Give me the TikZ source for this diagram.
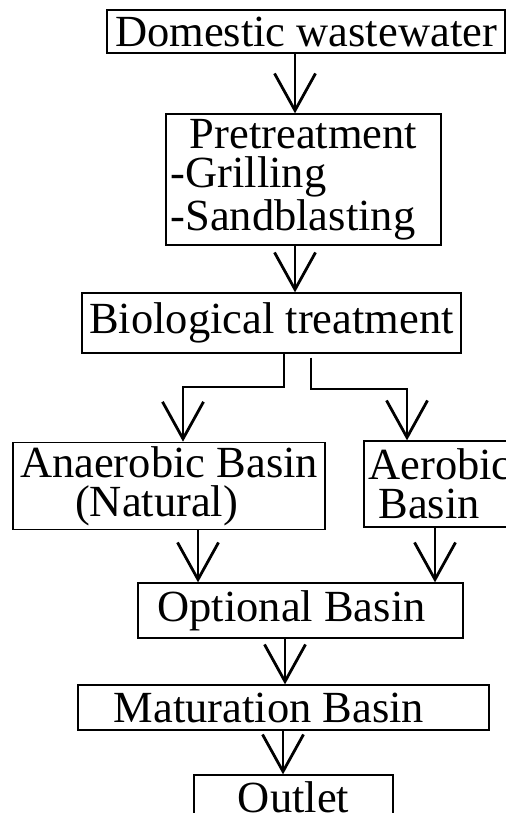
\documentclass[tikz,border=0pt]{standalone}
\usepackage{fontspec}
\setmainfont{Liberation Serif}
\usetikzlibrary{arrows.meta}
\tikzset{
  stage/.style={draw, line width=0.65pt, inner sep=2pt, font=\fontsize{22.25}{19.5}\selectfont},
  flow/.style={line width=1.15pt, -{Straight Barb[length=18.5pt, width=20.5pt, line width=1.4pt]}}
}
\begin{document}
\begin{tikzpicture}[x=0.5pt, y=-0.5pt]
    \fill[white] (0,0) rectangle (506,813);
    \useasboundingbox (0,0) rectangle (506,813);
    \clip (0,0) rectangle (506,813);

    \node[stage, minimum width=199pt, minimum height=21.5pt] (dom) at (306,31.5) {Domestic wastewater};
    \node[stage, minimum width=137.5pt, minimum height=65.5pt, text width=133pt, align=left] (pre) at (303.5,179.5)
        {\makebox[133pt]{Pretreatment}\\-Grilling\\-Sandblasting};
    \node[stage, minimum width=189.5pt, minimum height=30pt] (bio) at (271.5,323) {Biological treatment};
    \node[stage, minimum width=156pt, minimum height=43pt, align=left] (ana) at (169,486)
        {Anaerobic Basin\\\hspace*{27.5pt}(Natural)};
    \node[stage, minimum width=76pt, minimum height=43pt, align=left] (aer) at (440,484)
        {Aerobic\\\hspace*{5pt}Basin};
    \node[stage, minimum width=162.5pt, minimum height=27.5pt] (opt) at (300.5,610.5) {Optional Basin\hspace*{9pt}};
    \node[stage, minimum width=205.5pt, minimum height=22.5pt] (mat) at (283.5,707.5) {Maturation Basin\hspace*{14.5pt}};
    \node[stage, minimum width=99.5pt, minimum height=22.5pt] (out) at (293.5,797.5) {Outlet};

    \draw[flow] ([xshift=-5.5pt]dom.south) -- ([xshift=-4.25pt]pre.north);
    \draw[flow] ([xshift=-4.25pt]pre.south) -- ([xshift=11.75pt]bio.north);
    \draw[flow] ([xshift=6.25pt]bio.south) -- ++(0,33) -| ([xshift=7pt]ana.north);
    \draw[flow] ([xshift=19.75pt, yshift=-2pt]bio.south) -- ++(0,31) -| ([xshift=-16.5pt]aer.north);
    \draw[flow] ([xshift=14.5pt]ana.south) -- ([xshift=-51.25pt]opt.north);
    \draw[flow] ([xshift=-2.5pt]aer.south) -- ([xshift=67.25pt]opt.north);
    \draw[flow] ([xshift=-7.75pt]opt.south) -- ([xshift=0.75pt]mat.north);
    \draw[flow] ([xshift=-0.25pt]mat.south) -- ([xshift=-5.25pt]out.north);
\end{tikzpicture}
\end{document}
